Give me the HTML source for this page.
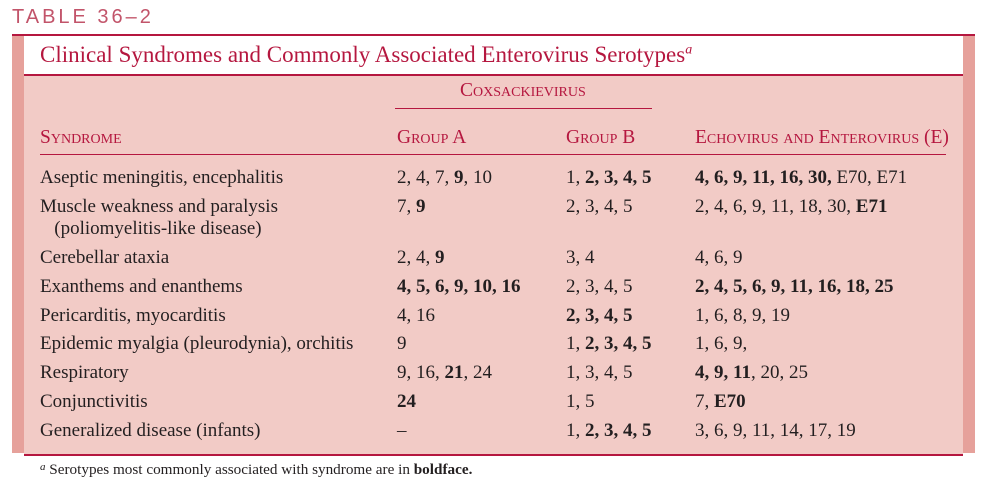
<!DOCTYPE html>
<html><head><meta charset="utf-8"><style>
body{margin:0;width:996px;height:498px;background:#fff;position:relative;overflow:hidden;font-family:"Liberation Serif",serif;color:#231f20}
.a{position:absolute;white-space:nowrap}
.r{color:#b5173f}
.sc{font-variant:small-caps;font-size:19.5px}
.t{font-size:19px;line-height:22px}
b{font-weight:bold}
</style></head><body>
<div class="a r" style="left:12px;top:6px;font-family:'Liberation Sans',sans-serif;font-size:20px;letter-spacing:3px;color:#c2546a">TABLE 36–2</div>
<div class="a" style="left:12px;top:34px;width:963px;height:2px;background:#b5173f"></div>
<div class="a" style="left:12px;top:36px;width:12px;height:417px;background:#e6a19b"></div>
<div class="a" style="left:963px;top:36px;width:12px;height:417px;background:#e6a19b"></div>
<div class="a r" style="left:40px;top:42px;font-size:23px">Clinical Syndromes and Commonly Associated Enterovirus Serotypes<sup style="font-size:14px;font-style:italic">a</sup></div>
<div class="a" style="left:24px;top:74px;width:939px;height:378px;background:#f2cbc6;border-top:2px solid #b5173f;border-bottom:2px solid #b5173f"></div>
<div class="a r sc" style="left:460px;top:80px">Coxsackievirus</div>
<div class="a" style="left:395px;top:108px;width:257px;height:1px;background:#b5173f"></div>
<div class="a r sc" style="left:40px;top:127px">Syndrome</div>
<div class="a r sc" style="left:397px;top:127px">Group A</div>
<div class="a r sc" style="left:566px;top:127px">Group B</div>
<div class="a r sc" style="left:695px;top:127px">Echovirus and Enterovirus (E)</div>
<div class="a" style="left:40px;top:154px;width:906px;height:1px;background:#b5173f"></div>

<div>
<div class="a t" style="left:40px;top:167px">Aseptic meningitis, encephalitis</div>
<div class="a t" style="left:397px;top:167px">2, 4, 7, <b>9</b>, 10</div>
<div class="a t" style="left:566px;top:167px">1, <b>2, 3, 4, 5</b></div>
<div class="a t" style="left:695px;top:167px"><b>4, 6, 9, 11, 16, 30,</b> E70, E71</div></div>
<div>
<div class="a t" style="left:40px;top:196px">Muscle weakness and paralysis<br>&nbsp;&nbsp;&nbsp;(poliomyelitis-like disease)</div>
<div class="a t" style="left:397px;top:196px">7, <b>9</b></div>
<div class="a t" style="left:566px;top:196px">2, 3, 4, 5</div>
<div class="a t" style="left:695px;top:196px">2, 4, 6, 9, 11, 18, 30, <b>E71</b></div></div>
<div>
<div class="a t" style="left:40px;top:247px">Cerebellar ataxia</div>
<div class="a t" style="left:397px;top:247px">2, 4, <b>9</b></div>
<div class="a t" style="left:566px;top:247px">3, 4</div>
<div class="a t" style="left:695px;top:247px">4, 6, 9</div></div>
<div>
<div class="a t" style="left:40px;top:276px">Exanthems and enanthems</div>
<div class="a t" style="left:397px;top:276px"><b>4, 5, 6, 9, 10, 16</b></div>
<div class="a t" style="left:566px;top:276px">2, 3, 4, 5</div>
<div class="a t" style="left:695px;top:276px"><b>2, 4, 5, 6, 9, 11, 16, 18, 25</b></div></div>
<div>
<div class="a t" style="left:40px;top:305px">Pericarditis, myocarditis</div>
<div class="a t" style="left:397px;top:305px">4, 16</div>
<div class="a t" style="left:566px;top:305px"><b>2, 3, 4, 5</b></div>
<div class="a t" style="left:695px;top:305px">1, 6, 8, 9, 19</div></div>
<div>
<div class="a t" style="left:40px;top:333px">Epidemic myalgia (pleurodynia), orchitis</div>
<div class="a t" style="left:397px;top:333px">9</div>
<div class="a t" style="left:566px;top:333px">1, <b>2, 3, 4, 5</b></div>
<div class="a t" style="left:695px;top:333px">1, 6, 9,</div></div>
<div>
<div class="a t" style="left:40px;top:362px">Respiratory</div>
<div class="a t" style="left:397px;top:362px">9, 16, <b>21</b>, 24</div>
<div class="a t" style="left:566px;top:362px">1, 3, 4, 5</div>
<div class="a t" style="left:695px;top:362px"><b>4, 9, 11</b>, 20, 25</div></div>
<div>
<div class="a t" style="left:40px;top:391px">Conjunctivitis</div>
<div class="a t" style="left:397px;top:391px"><b>24</b></div>
<div class="a t" style="left:566px;top:391px">1, 5</div>
<div class="a t" style="left:695px;top:391px">7, <b>E70</b></div></div>
<div>
<div class="a t" style="left:40px;top:420px">Generalized disease (infants)</div>
<div class="a t" style="left:397px;top:420px">–</div>
<div class="a t" style="left:566px;top:420px">1, <b>2, 3, 4, 5</b></div>
<div class="a t" style="left:695px;top:420px">3, 6, 9, 11, 14, 17, 19</div></div>

<div class="a" style="left:40px;top:461px;font-size:15.2px"><i style="font-size:11px;vertical-align:4px">a</i> Serotypes most commonly associated with syndrome are in <b>boldface.</b></div>
</body></html>
